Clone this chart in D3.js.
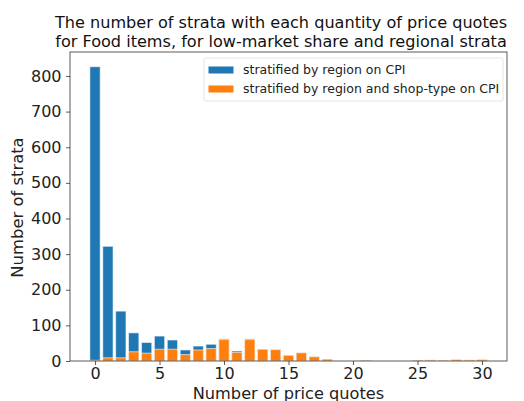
<!DOCTYPE html>
<html><head><meta charset="utf-8">
<script src="https://cdn.jsdelivr.net/npm/d3@7"></script>
<style>body{margin:0;background:#fff}svg{font-family:"DejaVu Sans",sans-serif}</style>
</head><body>
<svg id="c" width="524" height="401"></svg>
<script>
const quotes = d3.range(0, 31);
const byRegion =       [826,322,140,79,52,70,59,31,42,47,62,28,62,33,32,16,23,12,5,0,0,2,0,0,0,2,3,2,4,3,4];
const byRegionShop =   [2,9,9,26,22,33,33,18,31,35,60,24,60,33,32,16,23,12,5,0,0,2,0,0,0,2,3,2,4,3,4];
const seriesNames = ["stratified by region on CPI","stratified by region and shop-type on CPI"];
const colors = ["#1f77b4","#ff7f0e"];
const xTicks = [0,5,10,15,20,25,30];
const yTicks = [0,100,200,300,400,500,600,700,800];
const titleLines = ["The number of strata with each quantity of price quotes","for Food items, for low-market share and regional strata"];

const svg = d3.select("#c");
const L=70,R=507,T=52,B=361;
const x = d3.scaleLinear().domain([-0.4-1.54, 30.4+1.54]).range([L,R]);
const y = d3.scaleLinear().domain([0, 826*1.05]).range([B,T]);
const bw = x(0.8)-x(0);

[byRegion, byRegionShop].forEach((s,i)=>{
  svg.append("g").selectAll("rect").data(quotes).join("rect")
    .attr("x", d=>x(d-0.4)).attr("width", bw)
    .attr("y", d=>y(s[d])).attr("height", d=>B-y(s[d]))
    .attr("fill", colors[i]).attr("stroke","#fff").attr("stroke-opacity",0.6).attr("stroke-width",1)
    .style("display", d=>s[d]>0?null:"none");
});

const xa = svg.append("g").attr("transform",`translate(0,${B})`)
  .call(d3.axisBottom(x).tickValues(xTicks).tickSize(4).tickPadding(3));
const ya = svg.append("g").attr("transform",`translate(${L},0)`)
  .call(d3.axisLeft(y).tickValues(yTicks).tickSize(4).tickPadding(4.5));
[xa,ya].forEach(a=>{a.select(".domain").remove();a.selectAll("text").attr("font-size",16).attr("font-family","DejaVu Sans").attr("fill","#222");a.selectAll("line").attr("stroke","#333").attr("stroke-width",0.8);});

svg.append("rect").attr("x",L).attr("y",T).attr("width",R-L).attr("height",B-T)
  .attr("fill","none").attr("stroke","#333").attr("stroke-width",0.8);

svg.append("text").attr("x",(L+R)/2).attr("y",398.5).attr("text-anchor","middle").attr("font-size",16.2).attr("fill","#222").text("Number of price quotes");
svg.append("text").attr("transform",`translate(22.5,${(T+B)/2+1}) rotate(-90)`).attr("text-anchor","middle").attr("font-size",16.4).attr("fill","#222").text("Number of strata");

titleLines.forEach((t,i)=>svg.append("text").attr("text-anchor","middle").attr("font-size",16.1).attr("fill","#111")
  .attr("x",281).attr("y",28.2+i*18.9).text(t));

const lg = svg.append("g");
lg.append("rect").attr("x",204).attr("y",58).attr("width",299).attr("height",43).attr("rx",2)
  .attr("fill","#fff").attr("fill-opacity",0.8).attr("stroke","#ddd").attr("stroke-width",0.8);
seriesNames.forEach((n,i)=>{
  lg.append("rect").attr("x",208.5).attr("y",66.5+i*19).attr("width",25).attr("height",7).attr("fill",colors[i]);
  lg.append("text").attr("x",243).attr("y",74+i*19).attr("font-size",12.5).attr("fill","#222").text(n);
});
</script>
</body></html>
